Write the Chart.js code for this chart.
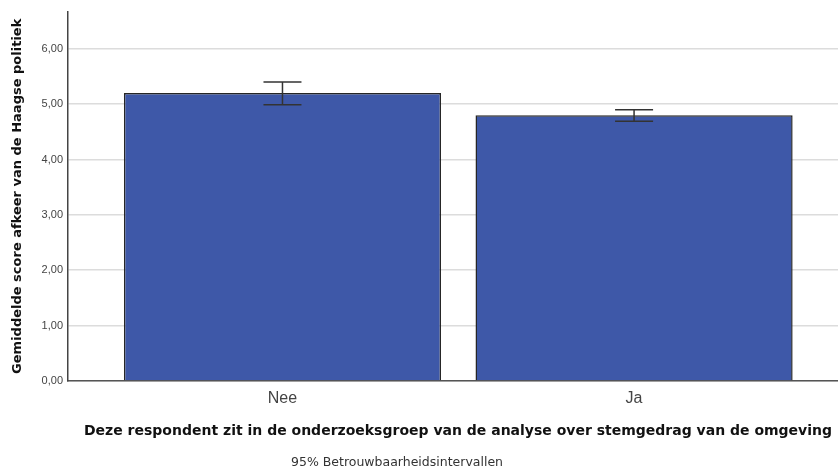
<!DOCTYPE html>
<html>
<head>
<meta charset="utf-8">
<script src="https://cdn.jsdelivr.net/npm/chart.js@4"></script>
<style>
  html, body { margin: 0; padding: 0; background: #fff; }
  #wrap { width: 838px; height: 471px; }
</style>
</head>
<body>
<div id="wrap"><canvas id="chart"></canvas></div>
<script>
const categories = ['Nee', 'Ja'];
const means = [5.20, 4.80];
const ciLower = [4.99, 4.69];
const ciUpper = [5.40, 4.90];
const yTicks = [0, 1, 2, 3, 4, 5, 6];

const yTitle = 'Gemiddelde score afkeer van de Haagse politiek';
const xTitle = 'Deze respondent zit in de onderzoeksgroep van de analyse over stemgedrag van de omgeving';
const footNote = '95% Betrouwbaarheidsintervallen';

Chart.defaults.font.family = '"Liberation Sans", Arial, sans-serif';

// error bars + text labels drawn on top of the chart
const extras = {
    id: 'extras',
    afterDatasetsDraw(chart) {
        const ctx = chart.ctx;
        const y = chart.scales.y;
        const bars = chart.getDatasetMeta(0).data;
        ctx.save();
        ctx.strokeStyle = '#333';
        ctx.lineWidth = 1.5;
        bars.forEach((bar, i) => {
            const top = y.getPixelForValue(ciUpper[i]);
            const bottom = y.getPixelForValue(ciLower[i]);
            ctx.beginPath();
            ctx.moveTo(bar.x, top);
            ctx.lineTo(bar.x, bottom);
            ctx.moveTo(bar.x - 19, top);
            ctx.lineTo(bar.x + 19, top);
            ctx.moveTo(bar.x - 19, bottom);
            ctx.lineTo(bar.x + 19, bottom);
            ctx.stroke();
        });
        ctx.restore();
    },
    afterDraw(chart) {
        const ctx = chart.ctx;
        const area = chart.chartArea;
        ctx.save();
        ctx.fillStyle = '#111';
        ctx.textAlign = 'center';
        ctx.textBaseline = 'middle';
        ctx.font = 'bold 14px "DejaVu Sans", sans-serif';
        ctx.fillText(xTitle, 458, 431);

        ctx.translate(18, (area.top + area.bottom) / 2);
        ctx.rotate(-Math.PI / 2);
        ctx.font = 'bold 13px "DejaVu Sans", sans-serif';
        ctx.fillText(yTitle, 0, 0);
        ctx.restore();

        ctx.save();
        ctx.fillStyle = '#333';
        ctx.textAlign = 'center';
        ctx.textBaseline = 'middle';
        ctx.font = '12.5px "DejaVu Sans", sans-serif';
        ctx.fillText(footNote, 397, 463);
        ctx.restore();
    }
};

new Chart(document.getElementById('chart'), {
    type: 'bar',
    data: {
        datasets: [{
            data: means.map((v, i) => ({ x: i, y: v })),
            backgroundColor: '#3e58a8',
            borderColor: '#262626',
            borderWidth: 1.5,
            borderSkipped: 'bottom',
            categoryPercentage: 1,
            barPercentage: 0.902
        }]
    },
    options: {
        responsive: true,
        maintainAspectRatio: false,
        animation: false,
        layout: { padding: { top: 10, right: 0, left: 0, bottom: 0 } },
        plugins: {
            legend: { display: false },
            tooltip: { enabled: false }
        },
        scales: {
            x: {
                type: 'linear',
                offset: false,
                min: -0.61,
                max: 1.58,
                afterFit: s => { s.height = 90; },
                afterBuildTicks: s => { s.ticks = categories.map((_, i) => ({ value: i })); },
                grid: { display: false, drawTicks: false, offset: false },
                border: { display: true, color: '#555', width: 1.5 },
                ticks: {
                    padding: 8,
                    color: '#444',
                    font: { size: 16 },
                    callback: v => categories[v] ?? ''
                }
            },
            y: {
                min: 0,
                max: 6.67,
                afterFit: s => { s.width = 68; },
                afterBuildTicks: s => { s.ticks = yTicks.map(v => ({ value: v })); },
                grid: { color: '#dcdcdc', lineWidth: 1.5, drawTicks: false },
                border: { display: true, color: '#444', width: 1.5 },
                ticks: {
                    padding: 5,
                    color: '#444',
                    font: { size: 11 },
                    callback: v => v.toFixed(2).replace('.', ',')
                }
            }
        }
    },
    plugins: [extras]
});
</script>
</body>
</html>
